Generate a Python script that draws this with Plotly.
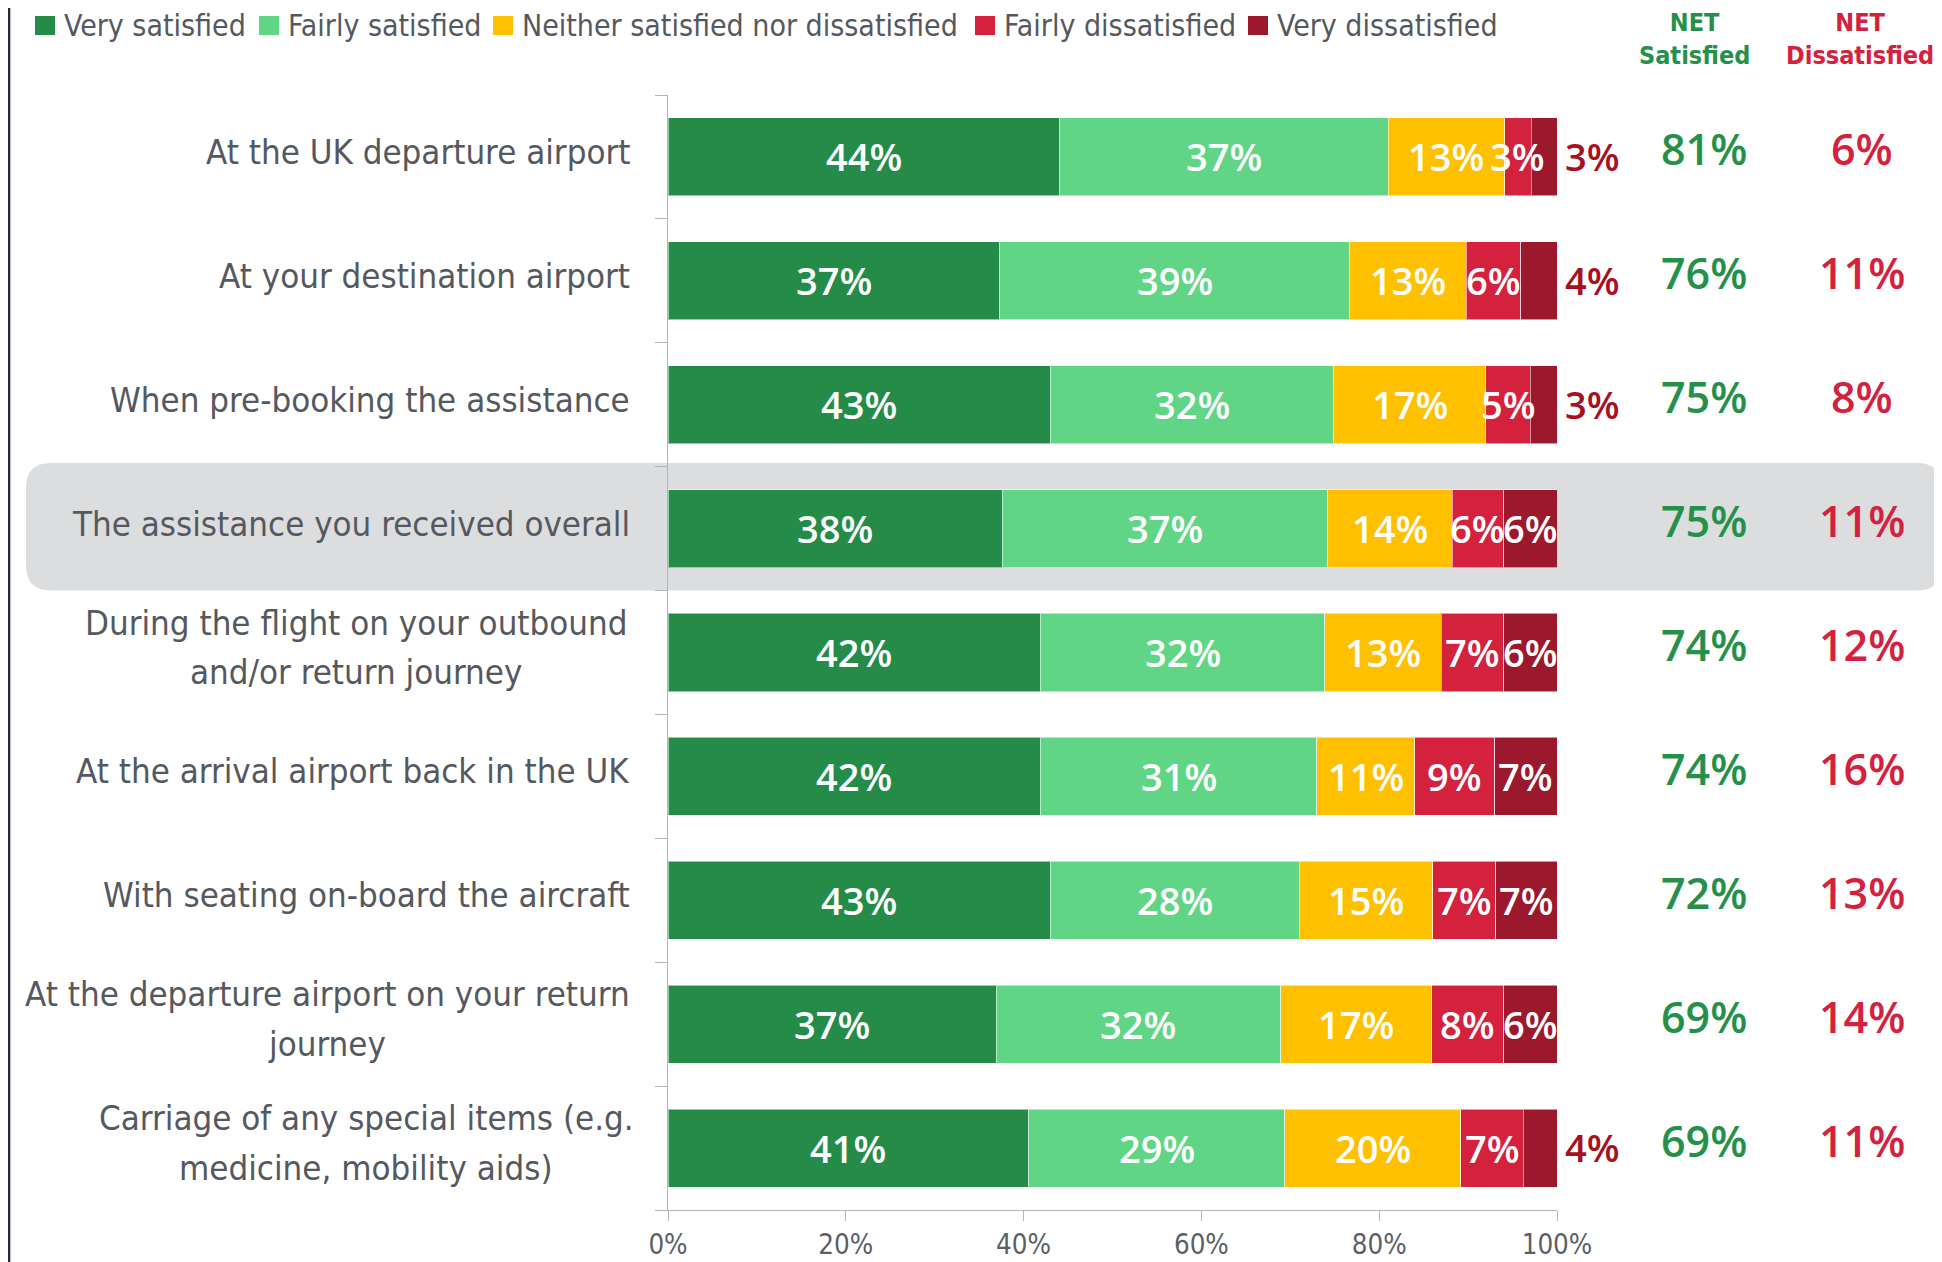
import plotly.graph_objects as go

# ---------------- data ----------------
categories = [
    "At the UK departure airport",
    "At your destination airport",
    "When pre-booking the assistance",
    "The assistance you received overall",
    "During the flight on your outbound<br>and/or return journey",
    "At the arrival airport back in the UK",
    "With seating on-board the aircraft",
    "At the departure airport on your return<br>journey",
    "Carriage of any special items (e.g.<br>medicine, mobility aids)",
]
series_names = [
    "Very satisfied",
    "Fairly satisfied",
    "Neither satisfied nor dissatisfied",
    "Fairly dissatisfied",
    "Very dissatisfied",
]
very_satisfied = [44.0, 37.3, 43.0, 37.6, 41.9, 41.9, 43.0, 36.9, 40.6]
fairly_satisfied = [37.0, 39.4, 31.9, 36.6, 32.0, 31.1, 28.0, 32.0, 28.8]
neither = [13.1, 13.1, 17.1, 14.0, 13.1, 11.0, 15.0, 17.0, 19.8]
fairly_dissatisfied = [3.0, 6.1, 5.0, 5.8, 7.0, 9.0, 7.1, 8.1, 7.0]
very_dissatisfied = [2.9, 4.1, 3.0, 6.0, 6.0, 7.0, 6.9, 6.0, 3.8]
net_satisfied = [81, 76, 75, 75, 74, 74, 72, 69, 69]
net_dissatisfied = [6, 11, 8, 11, 12, 16, 13, 14, 11]
x_tick_values = [0, 20, 40, 60, 80, 100]
x_tick_labels = ["0%", "20%", "40%", "60%", "80%", "100%"]
highlight_index = 3

# ---------------- style ----------------
colors = ["#248c48", "#61d586", "#ffc000", "#d4213d", "#9c182c"]
GREEN = "#24904a"
RED = "#d4213d"
DARKRED = "#a8101f"
GREY_TXT = "#55595f"
AXIS = "#b4b4b4"
FC = "DejaVu Sans Condensed, DejaVu Sans, sans-serif"
FO = "Open Sans, sans-serif"

OFF = 8  # page body margin
W, H = 1942 - OFF, 1262 - OFF
ML, MT = 660, 87
MR = W - (1557 - OFF)
MB = H - (1210 - OFF)
PW = W - ML - MR
PH = H - MT - MB


def px2paper_x(win_px):
    return (win_px - OFF - ML) / PW


def px2paper_y(win_py):
    return 1 - (win_py - OFF - MT) / PH


series = [very_satisfied, fairly_satisfied, neither, fairly_dissatisfied, very_dissatisfied]
n = len(categories)
ypos = list(range(n))

fig = go.Figure()
# stacked bars
for i, (name, vals) in enumerate(zip(series_names, series)):
    fig.add_trace(go.Bar(
        name=name, y=ypos, x=vals, orientation="h", width=0.63,
        marker=dict(color=colors[i], line=dict(color="rgba(255,255,255,0.55)", width=1)),
        hoverinfo="skip", showlegend=False,
    ))

annotations = []
shapes = []

# value labels (placed on top of every bar segment, in data coordinates)
cum = [0.0] * n
for i, vals in enumerate(series):
    for k in range(n):
        v = vals[k]
        label = f"{int(v + 0.5)}%"
        if i == len(series) - 1 and v < 5:
            annotations.append(dict(
                x=cum[k] + v, xref="x", xanchor="left", xshift=6,
                y=k, yref="y", yanchor="middle", yshift=1,
                text=label, showarrow=False,
                font=dict(family=FO, size=38, color=DARKRED, weight=600)))
        else:
            annotations.append(dict(
                x=cum[k] + v / 2, xref="x", xanchor="center",
                y=k, yref="y", yanchor="middle", yshift=0.5,
                text=label, showarrow=False,
                font=dict(family=FO, size=38, color="white", weight=600)))
    cum = [cum[k] + vals[k] for k in range(n)]

# category labels
LBL_SIZE = 34.6
LBL_SHIFT = 5
LINE_HALF = 24.75
multi_center = {4: 356, 7: 327, 8: 366}  # centre of two-line label blocks (window px)
for i, c in enumerate(categories):
    font = dict(family=FC, size=LBL_SIZE, color=GREY_TXT)
    if "<br>" in c:
        lines = c.split("<br>")
        for j, line in enumerate(lines):
            annotations.append(dict(
                x=px2paper_x(multi_center[i]), xref="paper", xanchor="center",
                y=i, yref="y", yanchor="middle",
                yshift=LBL_SHIFT + (LINE_HALF if j == 0 else -LINE_HALF),
                text=line, showarrow=False, font=font))
    else:
        annotations.append(dict(
            x=0, xref="paper", xshift=-36, xanchor="right",
            y=i, yref="y", yanchor="middle", yshift=LBL_SHIFT,
            text=c, showarrow=False, font=font))

# net columns
for i in range(n):
    annotations.append(dict(
        x=px2paper_x(1704), xref="paper", xanchor="center",
        y=i, yref="y", yshift=8, yanchor="middle",
        text=f"{net_satisfied[i]}%", showarrow=False,
        font=dict(family=FO, size=43, color=GREEN, weight=600),
    ))
    annotations.append(dict(
        x=px2paper_x(1862), xref="paper", xanchor="center",
        y=i, yref="y", yshift=8, yanchor="middle",
        text=f"{net_dissatisfied[i]}%", showarrow=False,
        font=dict(family=FO, size=43, color=RED, weight=600),
    ))
annotations.append(dict(
    x=px2paper_x(1694), xref="paper", xanchor="center",
    y=px2paper_y(39), yref="paper", yanchor="middle",
    text="NET<br>Satisfied", showarrow=False, align="center",
    font=dict(family=FC, size=25, color=GREEN, weight="bold"),
))
annotations.append(dict(
    x=px2paper_x(1860), xref="paper", xanchor="center",
    y=px2paper_y(39), yref="paper", yanchor="middle",
    text="NET<br>Dissatisfied", showarrow=False, align="center",
    font=dict(family=FC, size=25, color=RED, weight="bold"),
))

# manual legend
legend_x = [35, 259, 493, 975, 1248]
for name, col, lx in zip(series_names, colors, legend_x):
    shapes.append(dict(type="rect", xref="paper", yref="paper",
                       x0=px2paper_x(lx), x1=px2paper_x(lx + 20),
                       y0=px2paper_y(35), y1=px2paper_y(16),
                       fillcolor=col, line=dict(width=0)))
    annotations.append(dict(
        x=px2paper_x(lx + 28), xref="paper", xanchor="left",
        y=px2paper_y(26), yref="paper", yanchor="middle", borderpad=0,
        text=name, showarrow=False,
        font=dict(family=FC, size=30, color=GREY_TXT),
    ))

# highlight rounded rectangle (around the highlighted category band)
x0, x1 = px2paper_x(26), px2paper_x(1942)
yt = 1 - (highlight_index - 0.53 + 0.5) / n
yb = 1 - (highlight_index + 0.5 + 0.5) / n
rx, ry = 25 / PW, 25 / PH
path = (f"M{x0 + rx},{yt} L{x1 - rx},{yt} Q{x1},{yt} {x1},{yt - ry} "
        f"L{x1},{yb + ry} Q{x1},{yb} {x1 - rx},{yb} L{x0 + rx},{yb} "
        f"Q{x0},{yb} {x0},{yb + ry} L{x0},{yt - ry} Q{x0},{yt} {x0 + rx},{yt} Z")
shapes.append(dict(type="path", path=path, xref="paper", yref="paper", layer="below",
                   fillcolor="#dcdddf", line=dict(width=0)))
# dark page strip on the left
shapes.append(dict(type="rect", xref="paper", yref="paper",
                   x0=px2paper_x(OFF), x1=px2paper_x(10), y0=-0.2, y1=1.2,
                   fillcolor="#252b3a", line=dict(width=0), layer="above"))
shapes.append(dict(type="rect", xref="paper", yref="paper",
                   x0=px2paper_x(10), x1=px2paper_x(11), y0=-0.2, y1=1.2,
                   fillcolor="#b9bcc2", line=dict(width=0), layer="above"))

fig.update_layout(
    width=W, height=H,
    margin=dict(l=ML, r=MR, t=MT, b=MB, pad=0, autoexpand=False),
    barmode="stack",
    paper_bgcolor="white",
    plot_bgcolor="rgba(0,0,0,0)",
    showlegend=False,
    xaxis=dict(
        range=[0, 100], tickvals=x_tick_values, ticktext=x_tick_labels,
        showline=True, linecolor=AXIS, linewidth=1,
        ticks="outside", ticklen=10, tickcolor=AXIS, ticklabelstandoff=0,
        showgrid=False, zeroline=False, fixedrange=True,
        tickfont=dict(family=FC, size=27.5, color="#5b5f66"),
    ),
    yaxis=dict(
        range=[n - 0.5, -0.5],
        tickvals=[k - 0.5 for k in range(n + 1)],
        showticklabels=False,
        showline=True, linecolor=AXIS, linewidth=1,
        ticks="outside", ticklen=12, tickcolor=AXIS,
        showgrid=False, zeroline=False, fixedrange=True,
    ),
    annotations=annotations,
    shapes=shapes,
)

fig.write_html("out.html")
